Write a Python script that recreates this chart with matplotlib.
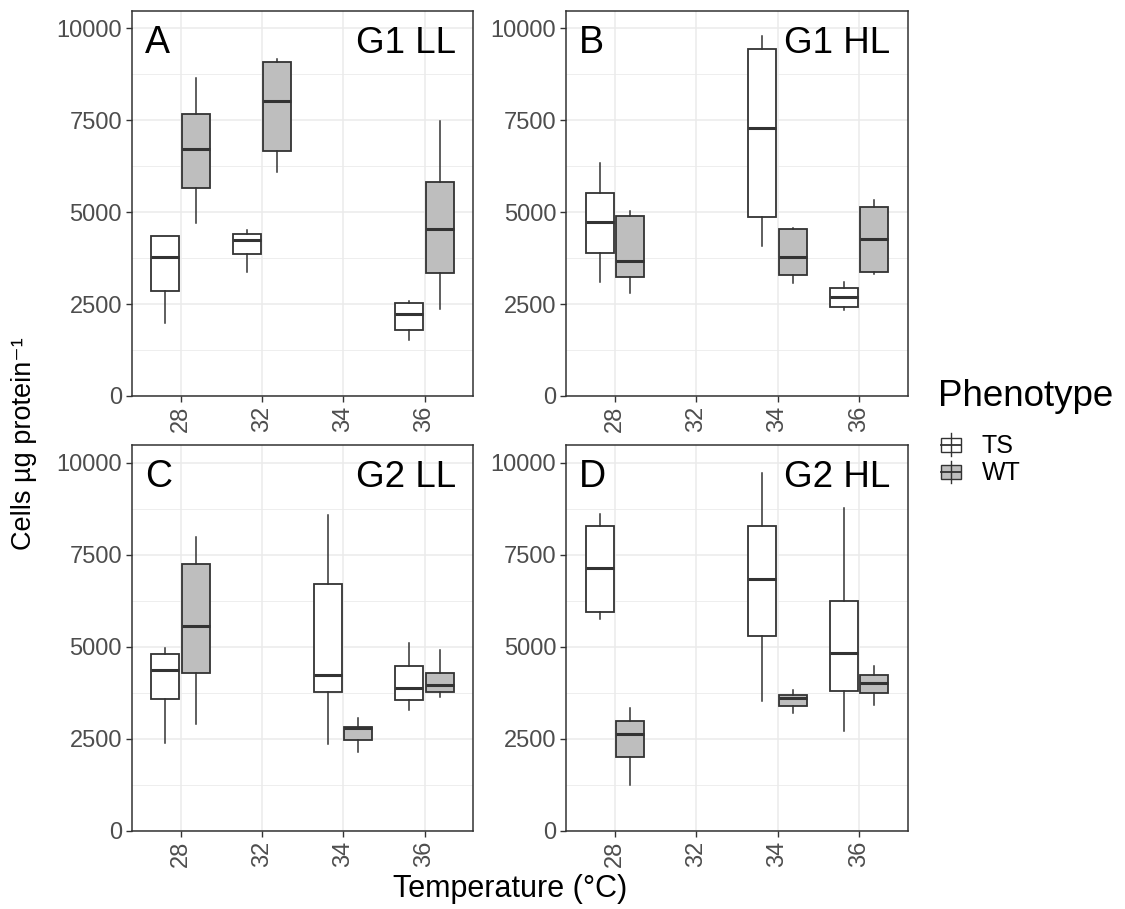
import matplotlib
matplotlib.use("Agg")
import matplotlib.pyplot as plt
from matplotlib.patches import Rectangle
from matplotlib.lines import Line2D

W = 1125
H = 909

plt.rcParams['font.family'] = ['Liberation Sans', 'DejaVu Sans']

temps = ['28', '32', '34', '36']
phenotypes = ['TS', 'WT']
fills = {'TS': 'white', 'WT': '#bebebe'}

# each box: [lower whisker, q1, median, q3, upper whisker]
g1ll_temps = ['28', '32', '36']
g1ll_ts = [[1995, 2865, 3790, 4352, 4352], [3364, 3862, 4243, 4415, 4524], [1532, 1804, 2239, 2538, 2584]]
g1ll_wt = [[4696, 5666, 6718, 7670, 8640], [6083, 6673, 8015, 9084, 9157], [2375, 3354, 4533, 5830, 7489]]

g1hl_temps = ['28', '34', '36']
g1hl_ts = [[3110, 3898, 4733, 5512, 6328], [4080, 4859, 7280, 9447, 9791], [2339, 2412, 2702, 2937, 3101]]
g1hl_wt = [[2792, 3228, 3663, 4896, 5041], [3083, 3282, 3790, 4542, 4578], [3309, 3382, 4279, 5150, 5331]]

g2ll_temps = ['28', '34', '36']
g2ll_ts = [[2396, 3575, 4374, 4791, 4964], [2359, 3757, 4238, 6697, 8575], [3267, 3539, 3875, 4465, 5100]]
g2ll_wt = [[2904, 4274, 5554, 7241, 7967], [2132, 2468, 2804, 2831, 3058], [3621, 3757, 3966, 4274, 4909]]

g2hl_temps = ['28', '34', '36']
g2hl_ts = [[5753, 5953, 7142, 8276, 8612], [3512, 5281, 6851, 8276, 9710], [2713, 3793, 4819, 6243, 8775]]
g2hl_wt = [[1234, 2015, 2623, 2985, 3321], [3194, 3376, 3593, 3693, 3829], [3421, 3730, 4002, 4238, 4474]]

panels = [
    ('A', 'G1 LL', g1ll_temps, g1ll_ts, g1ll_wt, (131.7, 10.7, 473.3, 396)),
    ('B', 'G1 HL', g1hl_temps, g1hl_ts, g1hl_wt, (566, 10.7, 907.7, 396)),
    ('C', 'G2 LL', g2ll_temps, g2ll_ts, g2ll_wt, (131.7, 445, 473.3, 830.7)),
    ('D', 'G2 HL', g2hl_temps, g2hl_ts, g2hl_wt, (566, 445, 907.7, 830.7)),
]

edge = '#333333'
gridc = '#ebebeb'


def rect(l, t, r, b):
    return [l / W, 1 - b / H, (r - l) / W, (b - t) / H]


fig = plt.figure(figsize=(W / 100, H / 100), dpi=100)

for letter, name, ptemps, ts, wt, box in panels:
    ax = fig.add_axes(rect(*box))
    ax.set_xlim(0.4, 4.6)
    ax.set_ylim(0, 10480)
    ax.set_yticks([0, 2500, 5000, 7500, 10000])
    ax.set_yticks([1250, 3750, 6250, 8750], minor=True)
    ax.set_xticks(range(1, len(temps) + 1))
    ax.set_xticklabels(temps, rotation=90, fontsize=17, color='#4d4d4d')
    ax.tick_params(axis='y', labelsize=17, labelcolor='#4d4d4d')
    ax.tick_params(which='major', length=4, width=1, color=edge, pad=3)
    ax.tick_params(which='minor', length=0)
    ax.grid(which='major', color=gridc, linewidth=1.1)
    ax.grid(which='minor', color=gridc, linewidth=0.6)
    ax.set_axisbelow(True)
    for s in ax.spines.values():
        s.set_color(edge)
        s.set_linewidth(1.1)

    for ph, data, off in [('TS', ts, -0.1875), ('WT', wt, 0.1875)]:
        stats = []
        pos = []
        for t, v in zip(ptemps, data):
            stats.append(dict(whislo=v[0], q1=v[1], med=v[2], q3=v[3], whishi=v[4], fliers=[]))
            pos.append(temps.index(t) + 1 + off)
        ax.bxp(stats, positions=pos, widths=0.345, patch_artist=True, showcaps=False,
               manage_ticks=False,
               boxprops=dict(facecolor=fills[ph], edgecolor=edge, linewidth=1.3),
               whiskerprops=dict(color=edge, linewidth=1.1),
               medianprops=dict(color=edge, linewidth=2.2))

    ax.text(0.039, 0.89, letter, transform=ax.transAxes, fontsize=27, va='baseline', ha='left')
    ax.text(0.95, 0.89, name, transform=ax.transAxes, fontsize=26.5, va='baseline', ha='right')

fig.text(24 / W, 1 - 444 / H, 'Cells µg protein⁻¹', rotation=90, fontsize=19.5,
         ha='center', va='center')
fig.text(510 / W, 1 - 889 / H, 'Temperature (°C)', fontsize=22, ha='center', va='center')

# legend
fig.text(938 / W, 1 - 397 / H, 'Phenotype', fontsize=26.5, ha='left', va='center')
keys = [(433, 456, 438, 452, 445), (461, 483, 465, 479, 472)]
for ph, (wt_, wb, bt, bb, md) in zip(phenotypes, keys):
    cx = 951
    fig.add_artist(Line2D([cx / W, cx / W], [1 - wt_ / H, 1 - wb / H], color=edge, linewidth=1.0))
    fig.add_artist(Rectangle((941 / W, 1 - bb / H), 20 / W, (bb - bt) / H,
                             facecolor=fills[ph], edgecolor=edge, linewidth=1.0,
                             transform=fig.transFigure))
    fig.add_artist(Line2D([941 / W, 961 / W], [1 - md / H, 1 - md / H], color=edge, linewidth=1.3))
    fig.text(982 / W, 1 - (md + 1) / H, ph, fontsize=18, ha='left', va='center')

fig.savefig('out.png', dpi=100)
